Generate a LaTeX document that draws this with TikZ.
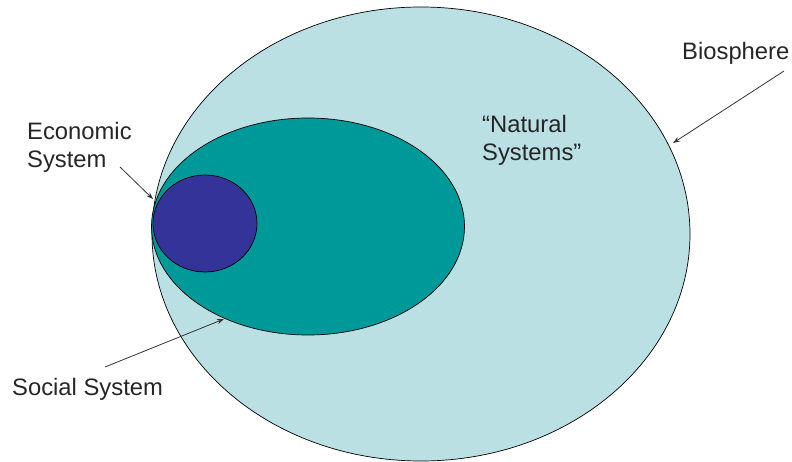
\documentclass[tikz,border=0pt]{standalone}
\usepackage{fontspec}
\setmainfont{Liberation Sans}
\usetikzlibrary{shapes.geometric,arrows.meta}
\definecolor{bioblue}{HTML}{BAE0E3}
\definecolor{socteal}{HTML}{009999}
\definecolor{ecoblue}{HTML}{333399}
\definecolor{txtgray}{HTML}{262626}
\tikzset{
  sphere/.style={ellipse, draw=black, line width=0.7pt, inner sep=0pt},
  lbl/.style={font=\fontsize{23.8}{28}\selectfont, text=txtgray, inner sep=0pt, align=left},
  pointer/.style={draw=black!80, line width=0.8pt, -{Stealth[length=7pt,width=5pt]}}
}
\begin{document}
\begin{tikzpicture}[x=1pt,y=-1pt]
\useasboundingbox (0,0) rectangle (792,462);
\node[sphere, fill=bioblue, minimum width=538pt, minimum height=454pt] (bio) at (421,234) {};
\node[sphere, fill=socteal, minimum width=313pt, minimum height=217pt] (soc) at (308,226.5) {};
\node[sphere, fill=ecoblue, minimum width=104pt, minimum height=97pt] (eco) at (205,223.5) {};

\node[lbl, anchor=base west] (biolbl) at (682,60) {Biosphere};
\node[lbl, anchor=west] (natlbl) at (482,140) {``Natural\\Systems''};
\node[lbl, anchor=west] (ecolbl) at (27,147) {Economic\\System};
\node[lbl, anchor=base west] (soclbl) at (12,395) {Social System};

\coordinate (biostart) at (784,71);
\coordinate (biotip) at (673,143);
\coordinate (ecostart) at (120,167);
\coordinate (ecotip) at (153,199);
\coordinate (socstart) at (105,367);
\coordinate (soctip) at (224,319);
\draw[pointer] (biostart) -- (biotip);
\draw[pointer] (ecostart) -- (ecotip);
\draw[pointer] (socstart) -- (soctip);
\end{tikzpicture}
\end{document}
